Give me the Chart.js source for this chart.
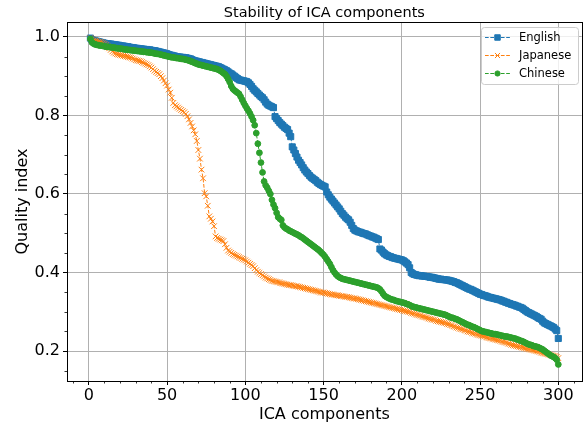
<!DOCTYPE html>
<html><head><meta charset="utf-8">
<script src="https://cdn.jsdelivr.net/npm/chart.js@4/dist/chart.umd.min.js"></script>
<style>html,body{margin:0;padding:0;background:#fff}#wrap{width:587px;height:426px;position:relative}</style>
</head><body><div id="wrap"><canvas id="c" width="587" height="426"></canvas></div>
<script>
const components = Array.from({length: 300}, (_, i) => i + 1);
const seriesNames = ['English', 'Japanese', 'Chinese'];
const xTicks = [0, 50, 100, 150, 200, 250, 300];
const yTicks = [0.2, 0.4, 0.6, 0.8, 1.0];
const chartTitle = 'Stability of ICA components';
const xTitle = 'ICA components';
const yTitle = 'Quality index';

const english = [
0.997,0.993,0.991,0.990,0.989,0.988,0.987,0.986,0.985,0.984,
0.983,0.983,0.982,0.982,0.981,0.980,0.980,0.979,0.979,0.978,
0.977,0.977,0.976,0.975,0.975,0.974,0.973,0.973,0.972,0.971,
0.971,0.970,0.970,0.969,0.969,0.968,0.968,0.967,0.967,0.966,
0.965,0.965,0.964,0.963,0.962,0.961,0.960,0.959,0.958,0.957,
0.955,0.954,0.953,0.952,0.951,0.950,0.949,0.949,0.948,0.948,
0.947,0.947,0.946,0.945,0.944,0.942,0.940,0.939,0.938,0.937,
0.936,0.935,0.934,0.933,0.932,0.931,0.930,0.929,0.928,0.927,
0.926,0.925,0.924,0.922,0.920,0.918,0.916,0.914,0.911,0.908,
0.906,0.903,0.900,0.897,0.894,0.891,0.890,0.889,0.888,0.887,
0.886,0.883,0.879,0.874,0.868,0.864,0.860,0.856,0.852,0.848,
0.845,0.840,0.834,0.829,0.826,0.824,0.822,0.820,0.797,0.792,
0.787,0.782,0.778,0.774,0.770,0.767,0.764,0.755,0.746,0.720,
0.712,0.703,0.694,0.686,0.680,0.674,0.667,0.661,0.656,0.652,
0.647,0.643,0.640,0.637,0.634,0.630,0.627,0.624,0.622,0.620,
0.618,0.605,0.598,0.592,0.587,0.582,0.577,0.572,0.567,0.562,
0.556,0.550,0.546,0.541,0.537,0.534,0.528,0.520,0.512,0.508,
0.506,0.504,0.503,0.502,0.500,0.499,0.498,0.496,0.494,0.493,
0.491,0.490,0.488,0.486,0.484,0.460,0.457,0.452,0.448,0.445,
0.443,0.441,0.440,0.438,0.437,0.436,0.435,0.434,0.433,0.432,
0.430,0.427,0.424,0.420,0.412,0.400,0.397,0.395,0.394,0.393,
0.392,0.392,0.391,0.391,0.390,0.390,0.389,0.388,0.388,0.387,
0.386,0.385,0.384,0.383,0.383,0.382,0.382,0.381,0.381,0.380,
0.379,0.378,0.377,0.375,0.374,0.372,0.370,0.368,0.366,0.364,
0.362,0.360,0.358,0.357,0.355,0.353,0.351,0.349,0.347,0.345,
0.344,0.342,0.341,0.340,0.338,0.337,0.336,0.335,0.334,0.333,
0.332,0.331,0.330,0.328,0.327,0.325,0.324,0.322,0.321,0.319,
0.318,0.317,0.315,0.314,0.312,0.311,0.309,0.306,0.303,0.300,
0.298,0.296,0.294,0.292,0.290,0.288,0.285,0.283,0.281,0.276,
0.272,0.270,0.268,0.266,0.264,0.262,0.260,0.256,0.252,0.232
];

const japanese = [
0.997,0.994,0.991,0.990,0.989,0.988,0.987,0.986,0.984,0.982,
0.979,0.975,0.971,0.967,0.963,0.960,0.958,0.956,0.955,0.954,
0.953,0.952,0.951,0.950,0.949,0.948,0.947,0.945,0.943,0.941,
0.940,0.939,0.938,0.936,0.934,0.932,0.930,0.928,0.925,0.922,
0.918,0.914,0.911,0.908,0.905,0.900,0.895,0.889,0.882,0.876,
0.866,0.858,0.845,0.832,0.826,0.823,0.820,0.817,0.814,0.811,
0.808,0.804,0.798,0.790,0.781,0.772,0.762,0.752,0.735,0.712,
0.690,0.662,0.640,0.602,0.594,0.570,0.543,0.537,0.530,0.518,
0.492,0.488,0.486,0.484,0.482,0.480,0.472,0.463,0.456,0.453,
0.450,0.447,0.445,0.443,0.441,0.439,0.437,0.435,0.433,0.431,
0.428,0.425,0.422,0.419,0.416,0.411,0.406,0.402,0.399,0.396,
0.393,0.390,0.387,0.385,0.383,0.381,0.379,0.378,0.377,0.376,
0.375,0.374,0.373,0.372,0.371,0.370,0.369,0.368,0.368,0.367,
0.366,0.365,0.365,0.364,0.363,0.362,0.361,0.360,0.359,0.358,
0.357,0.356,0.355,0.354,0.353,0.352,0.351,0.350,0.349,0.349,
0.348,0.347,0.346,0.345,0.344,0.344,0.343,0.342,0.342,0.341,
0.340,0.340,0.339,0.338,0.338,0.337,0.336,0.335,0.334,0.334,
0.333,0.332,0.331,0.330,0.329,0.328,0.327,0.326,0.325,0.324,
0.323,0.322,0.321,0.320,0.319,0.318,0.317,0.316,0.315,0.314,
0.313,0.312,0.311,0.310,0.309,0.308,0.307,0.306,0.305,0.304,
0.303,0.302,0.301,0.300,0.299,0.297,0.296,0.295,0.293,0.292,
0.291,0.290,0.288,0.287,0.286,0.285,0.283,0.282,0.281,0.280,
0.279,0.277,0.276,0.275,0.274,0.273,0.272,0.271,0.269,0.268,
0.266,0.265,0.263,0.262,0.260,0.259,0.257,0.256,0.255,0.253,
0.252,0.250,0.249,0.248,0.246,0.245,0.244,0.242,0.241,0.240,
0.239,0.238,0.237,0.235,0.234,0.233,0.232,0.231,0.230,0.229,
0.228,0.227,0.226,0.224,0.223,0.222,0.221,0.219,0.218,0.216,
0.215,0.214,0.213,0.212,0.211,0.210,0.209,0.208,0.207,0.206,
0.205,0.204,0.203,0.202,0.201,0.200,0.199,0.198,0.196,0.195,
0.194,0.193,0.192,0.191,0.190,0.189,0.188,0.187,0.185,0.182
];

const chinese = [
0.995,0.986,0.983,0.981,0.980,0.979,0.978,0.978,0.977,0.976,
0.975,0.975,0.974,0.974,0.973,0.973,0.972,0.971,0.971,0.970,
0.970,0.969,0.968,0.968,0.967,0.967,0.966,0.966,0.965,0.965,
0.964,0.964,0.963,0.963,0.962,0.962,0.961,0.961,0.960,0.960,
0.959,0.958,0.957,0.957,0.956,0.955,0.954,0.953,0.952,0.951,
0.950,0.949,0.948,0.948,0.947,0.946,0.946,0.945,0.944,0.944,
0.943,0.942,0.941,0.940,0.938,0.937,0.935,0.933,0.932,0.930,
0.929,0.928,0.927,0.926,0.925,0.924,0.923,0.922,0.921,0.920,
0.919,0.918,0.916,0.914,0.911,0.908,0.905,0.900,0.893,0.885,
0.875,0.868,0.864,0.861,0.858,0.855,0.848,0.840,0.832,0.825,
0.818,0.812,0.805,0.797,0.788,0.775,0.755,0.728,0.705,0.680,
0.655,0.632,0.622,0.616,0.608,0.600,0.585,0.573,0.564,0.552,
0.541,0.537,0.534,0.520,0.515,0.512,0.510,0.507,0.505,0.503,
0.501,0.499,0.497,0.495,0.492,0.490,0.487,0.484,0.481,0.478,
0.475,0.472,0.469,0.466,0.463,0.460,0.457,0.453,0.449,0.445,
0.440,0.434,0.428,0.422,0.414,0.406,0.400,0.395,0.391,0.388,
0.386,0.384,0.383,0.382,0.381,0.380,0.379,0.378,0.377,0.376,
0.375,0.374,0.373,0.372,0.371,0.370,0.369,0.368,0.367,0.366,
0.365,0.364,0.363,0.362,0.360,0.357,0.352,0.346,0.341,0.338,
0.336,0.334,0.332,0.331,0.330,0.328,0.327,0.326,0.325,0.324,
0.323,0.322,0.320,0.319,0.317,0.315,0.313,0.312,0.311,0.310,
0.309,0.308,0.307,0.306,0.305,0.304,0.303,0.302,0.301,0.300,
0.299,0.298,0.297,0.296,0.295,0.294,0.293,0.292,0.290,0.288,
0.286,0.285,0.284,0.282,0.281,0.279,0.277,0.275,0.273,0.271,
0.269,0.267,0.266,0.264,0.262,0.261,0.259,0.257,0.255,0.253,
0.251,0.250,0.249,0.248,0.247,0.246,0.245,0.244,0.243,0.243,
0.242,0.241,0.240,0.239,0.238,0.237,0.237,0.236,0.235,0.234,
0.233,0.232,0.231,0.229,0.228,0.226,0.225,0.223,0.221,0.219,
0.217,0.216,0.215,0.213,0.212,0.211,0.210,0.208,0.206,0.204,
0.201,0.198,0.195,0.192,0.189,0.187,0.185,0.182,0.178,0.166
];

const colors = ['#1f77b4', '#ff7f0e', '#2ca02c'];
const styles = ['rect', 'crossRot', 'circle'];
const radii = [4.3, 4.0, 2.9];
const FONT = "'DejaVu Sans', sans-serif";

function toPoints(arr) { return arr.map((v, i) => ({x: components[i], y: v})); }
const seriesValues = [english, japanese, chinese];

const datasets = seriesValues.map((vals, k) => ({
  label: seriesNames[k],
  data: toPoints(vals),
  borderColor: colors[k],
  backgroundColor: colors[k],
  borderWidth: 1,
  borderDash: [3.7, 1.6],
  pointStyle: styles[k],
  pointRadius: radii[k],
  pointBorderWidth: 1,
  pointBorderColor: colors[k],
  pointBackgroundColor: colors[k],
  tension: 0,
  order: 3 - k
}));

function drawMarker(ctx, style, x, y, r, color) {
  ctx.save();
  ctx.fillStyle = color; ctx.strokeStyle = color; ctx.lineWidth = 1; ctx.setLineDash([]);
  ctx.beginPath();
  if (style === 'rect') {
    const s = Math.SQRT1_2 * r;
    ctx.rect(x - s, y - s, 2 * s, 2 * s); ctx.fill(); ctx.stroke();
  } else if (style === 'circle') {
    ctx.arc(x, y, r, 0, Math.PI * 2); ctx.fill(); ctx.stroke();
  } else {
    const d = Math.SQRT1_2 * r;
    ctx.moveTo(x - d, y - d); ctx.lineTo(x + d, y + d);
    ctx.moveTo(x - d, y + d); ctx.lineTo(x + d, y - d); ctx.stroke();
  }
  ctx.restore();
}

const decor = {
  id: 'decor',
  afterDraw(chart) {
    const {ctx, chartArea: a, scales} = chart;
    const xs = scales.x, ys = scales.y;
    ctx.save();
    ctx.strokeStyle = '#000'; ctx.lineWidth = 0.8;
    ctx.beginPath();
    for (let v = -10; v <= 310; v += 10) {
      if (v % 50 === 0) continue;
      const px = Math.round(xs.getPixelForValue(v)) + 0.5;
      ctx.moveTo(px, a.bottom); ctx.lineTo(px, a.bottom + 2.5);
    }
    for (let k = 3; k <= 20; k++) {
      if (k % 4 === 0) continue;
      const v = k * 0.05;
      if (v < ys.min || v > ys.max) continue;
      const py = Math.round(ys.getPixelForValue(v)) + 0.5;
      ctx.moveTo(a.left, py); ctx.lineTo(a.left - 2.5, py);
    }
    ctx.stroke();
    ctx.lineWidth = 1;
    ctx.strokeRect(Math.round(a.left) + 0.5, Math.round(a.top) + 0.5, Math.round(a.right - a.left), Math.round(a.bottom - a.top));
    ctx.fillStyle = '#000';
    ctx.textAlign = 'center';
    ctx.textBaseline = 'alphabetic';
    ctx.font = '14.5px ' + FONT;
    ctx.fillText(chartTitle, (a.left + a.right) / 2, 17);
    ctx.font = '16px ' + FONT;
    ctx.fillText(xTitle, (a.left + a.right) / 2, 419);
    ctx.save();
    ctx.translate(27, (a.top + a.bottom) / 2);
    ctx.rotate(-Math.PI / 2);
    ctx.fillText(yTitle, 0, 0);
    ctx.restore();
    const lx = 481, ly = 27, lw = 97, lh = 57;
    ctx.beginPath();
    if (ctx.roundRect) ctx.roundRect(lx + 0.5, ly + 0.5, lw, lh, 3); else ctx.rect(lx + 0.5, ly + 0.5, lw, lh);
    ctx.fillStyle = 'rgba(255,255,255,0.8)'; ctx.fill();
    ctx.strokeStyle = '#cccccc'; ctx.lineWidth = 1; ctx.stroke();
    ctx.font = '11.5px ' + FONT;
    ctx.textAlign = 'left'; ctx.textBaseline = 'middle';
    const rows = [37, 55, 73];
    seriesNames.forEach((name, k) => {
      const y = rows[k];
      ctx.save();
      ctx.strokeStyle = colors[k]; ctx.lineWidth = 1; ctx.setLineDash([3.7, 1.6]);
      ctx.beginPath(); ctx.moveTo(485, y + 0.5); ctx.lineTo(510, y + 0.5); ctx.stroke();
      ctx.restore();
      drawMarker(ctx, styles[k], 497.5, y + 0.5, radii[k] * 0.9, colors[k]);
      ctx.fillStyle = '#000';
      ctx.fillText(name, 519, y + 1);
    });
    ctx.restore();
  }
};

new Chart(document.getElementById('c'), {
  type: 'line',
  data: {datasets},
  plugins: [decor],
  options: {
    responsive: false,
    animation: false,
    devicePixelRatio: 1,
    layout: {padding: {left: 0, top: 22, right: 4, bottom: 0}},
    plugins: {legend: {display: false}, title: {display: false}, tooltip: {enabled: false}},
    scales: {
      x: {
        type: 'linear', min: -13.95, max: 314.95,
        afterBuildTicks: s => { s.ticks = xTicks.map(v => ({value: v})); },
        afterFit: s => { s.height = 45; },
        ticks: {color: '#000', font: {family: FONT, size: 16}, maxRotation: 0, autoSkip: false, padding: 1,
                callback: v => String(v)},
        grid: {color: '#b0b0b0', lineWidth: 1, tickColor: '#000', tickLength: 4, drawTicks: true},
        border: {display: false}
      },
      y: {
        type: 'linear', min: 0.1237, max: 1.038,
        afterBuildTicks: s => { s.ticks = yTicks.map(v => ({value: v})); },
        afterFit: s => { s.width = 67; },
        ticks: {color: '#000', font: {family: FONT, size: 16}, padding: 3, autoSkip: false,
                callback: v => Number(v).toFixed(1)},
        grid: {color: '#b0b0b0', lineWidth: 1, tickColor: '#000', tickLength: 4, drawTicks: true},
        border: {display: false}
      }
    }
  }
});
</script>
</body></html>
